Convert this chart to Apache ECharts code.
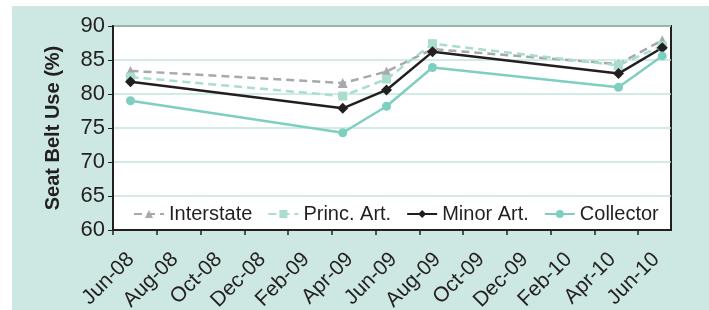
<!DOCTYPE html>
<html>
<head>
<meta charset="utf-8">
<script src="https://cdn.jsdelivr.net/npm/echarts@6/dist/echarts.min.js"></script>
<style>
  html, body { margin: 0; padding: 0; background: #fff; }
  #chart { width: 709px; height: 310px; }
</style>
</head>
<body>
<div id="chart"></div>
<script>
// x = months since Jun-08
const tickLabels = ['Jun-08', 'Aug-08', 'Oct-08', 'Dec-08', 'Feb-09', 'Apr-09', 'Jun-09',
  'Aug-09', 'Oct-09', 'Dec-09', 'Feb-10', 'Apr-10', 'Jun-10']
const surveyMonths = [0.8, 10.5, 12.5, 14.6, 23.1, 25.1]
const interstate = [83.4, 81.6, 83.3, 86.6, 84.4, 87.9]
const princArt = [82.5, 79.7, 82.2, 87.4, 84.2, 87.1]
const minorArt = [81.8, 77.9, 80.6, 86.2, 83.0, 86.8]
const collector = [79.0, 74.3, 78.2, 83.9, 81.0, 85.6]

const font = "'Liberation Sans', Arial, sans-serif"
const teal = '#cde8e2'
const ink = '#231f20'

const pts = (vals) => vals.map((v, i) => [surveyMonths[i], v])

const chart = echarts.init(document.getElementById('chart'))
chart.setOption({
  backgroundColor: '#fff',
  animation: false,
  graphic: [
    { type: 'rect', z: -10, shape: { x: 12, y: 6, width: 700, height: 310 }, style: { fill: teal } }
  ],
  grid: {
    left: 113, top: 26, width: 558, height: 204,
    outerBoundsMode: 'none', containLabel: false,
    show: true, backgroundColor: '#fff', borderColor: ink, borderWidth: 2
  },
  xAxis: {
    type: 'value', min: 0, max: 25.5, interval: 2,
    axisLine: { show: true, lineStyle: { color: ink, width: 2 } },
    axisTick: { show: true, length: 5, lineStyle: { color: ink, width: 1.5 } },
    splitLine: { show: false },
    axisLabel: {
      rotate: 45, margin: 8, fontSize: 21, color: ink, fontFamily: font,
      verticalAlign: 'top', padding: [15, 0, 0, 0],
      showMaxLabel: false,
      formatter: (v) => tickLabels[Math.round(v / 2)] || ''
    }
  },
  yAxis: {
    type: 'value', min: 60, max: 90, interval: 5,
    name: 'Seat Belt Use (%)', nameLocation: 'middle', nameGap: 50,
    nameTextStyle: { fontSize: 20, fontWeight: 'bold', color: ink, fontFamily: font },
    axisLine: { show: true, lineStyle: { color: ink, width: 2 } },
    axisTick: { show: true, length: 5, lineStyle: { color: ink } },
    splitLine: { lineStyle: { color: '#c3e6dd', width: 1.5 } },
    axisLabel: { fontSize: 22, color: ink, fontFamily: font, margin: 8 }
  },
  legend: {
    left: 128, top: 199, itemWidth: 30, itemHeight: 10, itemGap: 15,
    textStyle: { fontSize: 20, color: ink, fontFamily: font },
    data: ['Interstate', 'Princ. Art.', 'Minor Art.', 'Collector']
  },
  series: [
    {
      name: 'Interstate', type: 'line', data: pts(interstate),
      symbol: 'triangle', symbolSize: 10,
      lineStyle: { color: '#a7a9ac', width: 2.5, type: [8, 5] },
      itemStyle: { color: '#a7a9ac' }
    },
    {
      name: 'Princ. Art.', type: 'line', data: pts(princArt),
      symbol: 'rect', symbolSize: 9,
      lineStyle: { color: '#a8ddd0', width: 2.5, type: [8, 5] },
      itemStyle: { color: '#a8ddd0' }
    },
    {
      name: 'Minor Art.', type: 'line', data: pts(minorArt),
      symbol: 'diamond', symbolSize: 11,
      lineStyle: { color: ink, width: 2.5 },
      itemStyle: { color: ink }
    },
    {
      name: 'Collector', type: 'line', data: pts(collector),
      symbol: 'circle', symbolSize: 9,
      lineStyle: { color: '#7fcfc0', width: 2.5 },
      itemStyle: { color: '#7fcfc0' }
    }
  ]
})
</script>
</body>
</html>
